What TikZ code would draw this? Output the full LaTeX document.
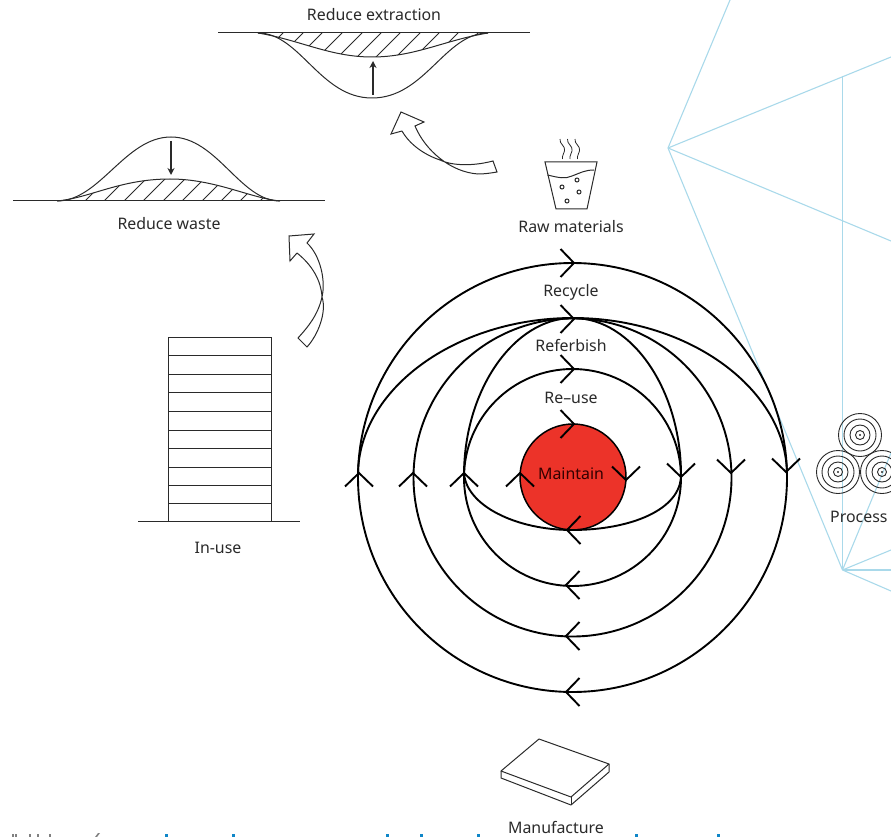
\documentclass[tikz,border=0pt]{standalone}
\usepackage{fontspec}
\setmainfont{Noto Sans}
\usetikzlibrary{arrows.meta}
\definecolor{skyline}{HTML}{A9D9EA}
\definecolor{redfill}{HTML}{EC3329}
\definecolor{inkgray}{HTML}{2A2A2A}
\definecolor{linkblue}{HTML}{0F86C8}
\tikzset{
  ring/.style={draw=black,line width=1.9pt,line join=miter},
  thin line/.style={draw=inkgray,line width=1pt},
  hatch/.style={draw=inkgray,line width=0.9pt},
  sky/.style={draw=skyline,line width=1.1pt},
  lab/.style={inner sep=0pt,text=inkgray,font=\fontsize{15.9}{17}\selectfont},
  chev/.pic={\draw[ring] (-13.5,-14)--(0,0)--(-13.5,14);},
  small arrow/.style={draw=inkgray,line width=1.2pt,-{Stealth[length=7pt,width=7pt]}}
}
\begin{document}
\begin{tikzpicture}[x=1pt,y=-1pt]
\useasboundingbox (0,0) rectangle (891,837);
% blue geometric lines
\coordinate (A) at (668,148);
\coordinate (B) at (842.5,570);
\draw[sky] (A)--(730,0);
\draw[sky] (A)--(891,57);
\draw[sky] (A)--(891,241);
\draw[sky] (A)--(B);
\draw[sky] (842.5,76)--(B);
\draw[sky] (B)--(891,453);
\draw[sky] (B)--(891,550);
\draw[sky] (B)--(891,570);
\draw[sky] (B)--(891,591);
% hatching: reduce extraction
\begin{scope}
\clip (258,33) .. controls (300,40) and (330,57) .. (372,57) .. controls (415,57) and (445,40) .. (488,33) -- cycle;
\foreach \x in {283,303,322,342,362,381,400,420,439,458,478}
  \draw[hatch] (\x,33)--(\x-30,63);
\end{scope}
% hatching: reduce waste
\begin{scope}
\clip (57,201) .. controls (90,198) and (120,179) .. (170,179) .. controls (215,179) and (250,198) .. (280,201) -- cycle;
\foreach \x in {66,85,104,124,143,163,182,202,221,240,260}
  \draw[hatch] (\x,201)--(\x+30,171);
\end{scope}
% reduce extraction
\draw[thin line] (218,33)--(530,33);
\draw[thin line] (258,33) .. controls (300,33) and (320,98) .. (372,98) .. controls (425,98) and (445,33) .. (488,33);
\draw[thin line] (258,33) .. controls (300,40) and (330,57) .. (372,57) .. controls (415,57) and (445,40) .. (488,33);
\coordinate (ea) at (373,95); \coordinate (eb) at (373,61);
\draw[small arrow] (ea)--(eb);
\node[lab] (ext) at (374,15) {Reduce extraction};
% reduce waste
\draw[thin line] (13,201)--(325,201);
\draw[thin line] (57,201) .. controls (100,201) and (125,137) .. (171,137) .. controls (217,137) and (240,201) .. (280,201);
\draw[thin line] (57,201) .. controls (90,198) and (120,179) .. (170,179) .. controls (215,179) and (250,198) .. (280,201);
\coordinate (wa) at (171,141); \coordinate (wb) at (171,175);
\draw[small arrow] (wa)--(wb);
\node[lab] (waste) at (169,224) {Reduce waste};
% curved arrows
\draw[thin line,line join=miter] (402,131) -- (391,134) -- (401,112) -- (424,122) -- (415,126)
  .. controls (425,150) and (450,172) .. (478,174) .. controls (485,174) and (491,173) .. (497,172)
  -- (493,161) .. controls (470,167) and (450,165) .. (440,160) .. controls (425,155) and (410,145) .. (402,131);
\draw[thin line,line join=miter] (297,253) -- (290,261) -- (289,236) -- (314,234) -- (307,243)
  .. controls (320,255) and (326,280) .. (322,297) .. controls (318,315) and (308,327) .. (298,338)
  -- (307,347) .. controls (318,335) and (327,312) .. (322,297) .. controls (321,280) and (312,265) .. (297,253);
% building
\foreach \y [remember=\y as \p (initially 337)] in {355,374,392,411,430,448,467,485,503,521}
  \draw[thin line] (168,\p) rectangle (271,\y);
\draw[thin line] (138,521)--(300,521);
\node[lab] (inuse) at (218,548) {In-use};
% beaker
\draw[thin line] (545,162)--(597,162)--(587,209)--(556,209)--cycle;
\draw[thin line] (547.5,175) .. controls (560,178) and (565,179) .. (572,176) .. controls (580,173) and (585,170) .. (594,170);
\draw[thin line] (577,180) circle (2);
\draw[thin line] (562,187) circle (2);
\draw[thin line] (579,192) circle (2);
\draw[thin line] (567,201) circle (2);
\foreach \x in {560,567.5,575}
  \draw[thin line,line width=.8pt] (\x,139) .. controls (\x-1,144) and (\x+6,146) .. (\x+4.5,151) .. controls (\x+4,154) and (\x+2,155) .. (\x+2.5,159);
\node[lab] (raw) at (571,227) {Raw materials};
% process rolls
\foreach \cx/\cy in {860/435,838/472,882/472}{
  \foreach \r in {21.5,16,10,4.5}
    \draw[thin line,line width=.9pt] (\cx,\cy) circle (\r);
  \fill[inkgray] (\cx,\cy) circle (1.2);
}
\begin{scope}
\clip (0,0) rectangle (891,837);
\node[lab,anchor=west] (process) at (830,517) {Process};
\end{scope}
% manufacture
\draw[thin line,line join=round] (501,771)--(539,739)--(609,764)--(571,797)--cycle;
\draw[thin line,line join=round] (501,771)--(501,778)--(571,805)--(609,772)--(609,764);
\draw[thin line] (571,797)--(571,805);
\node[lab] (manu) at (556,827) {Manufacture};
% cropped text at bottom edge
\begin{scope}
\foreach \x in {12,15,29,37,49} \fill[gray] (\x,834) rectangle (\x+1.6,837);
\fill[gray] (98,833) -- (100,833) -- (97,837) -- (95,837) -- cycle;
\foreach \x in {166,233,387,421,478,636,718} \fill[linkblue] (\x-1,834) rectangle (\x+1.5,837);
\end{scope}
% red circle
\node[circle,draw=black,line width=1.5pt,fill=redfill,minimum size=106pt,inner sep=0pt] (maintain) at (573,477) {};
\node[lab,text=black!80!red] (mtext) at (571,474) {Maintain};
% rings
\coordinate (c) at (572.5,477.5);
\draw[ring] (c) circle (214.5);
\draw[ring] (c) circle (159);
\draw[ring] (c) circle (108.5);
% ellipses
\draw[ring] (358,475) .. controls (358,390) and (455,318) .. (573,318) .. controls (690,318) and (787,390) .. (787,475);
\draw[ring] (464,475) .. controls (464,390) and (514,318) .. (573,318) .. controls (632,318) and (681,390) .. (681,475);
\draw[ring] (464,473) .. controls (466,505) and (515,530) .. (572,530) .. controls (630,530) and (681,510) .. (681,475);
% chevrons
\foreach \x/\y in {574/263,574/319,574/369,574/424}
  \pic[rotate=0] at (\x,\y) {chev};
\foreach \x/\y in {359/473,413/473,464/473,520/473}
  \pic[rotate=90] at (\x,\y) {chev};
\foreach \x/\y in {786/472,731/473,681/477,626/480}
  \pic[rotate=-90] at (\x,\y) {chev};
\foreach \x/\y in {566/692,566/636,566/585,567/530}
  \pic[rotate=180] at (\x,\y) {chev};
\node[lab] (rec) at (571,292) {Recycle};
\node[lab] (ref) at (571,345) {Referbish};
\node[lab] (reu) at (571,398) {Re–use};
\end{tikzpicture}
\end{document}
